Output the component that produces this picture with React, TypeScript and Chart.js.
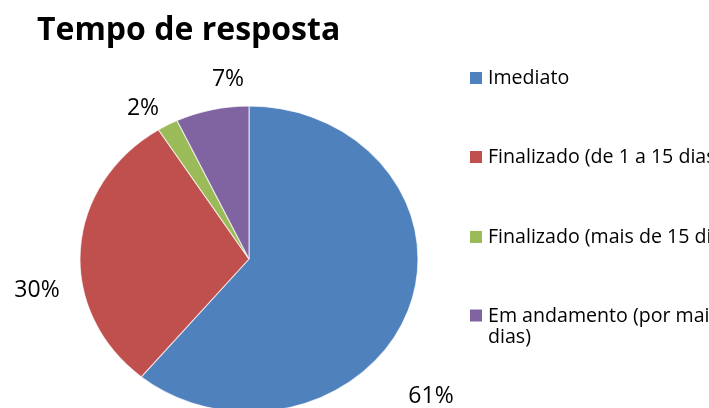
import React, { useEffect, useRef } from "react";
import { Chart, registerables } from "chart.js";

Chart.register(...registerables);

const TITLE = "Tempo de resposta";
const CATEGORIES: string[][] = [
  ["Imediato"],
  ["Finalizado (de 1 a 15 dias)"],
  ["Finalizado (mais de 15 dias)"],
  ["Em andamento (por mais de 15", "dias)"],
];
const VALUES = [61, 30, 2, 7];
const PERCENT_LABELS = ["61%", "30%", "2%", "7%"];
const COLORS = ["#4F81BD", "#C0504D", "#9BBB59", "#8064A2"];

// layout (offsets of each data label's centre from the pie centre)
const LABEL_OFFSETS = [
  [182, 137],
  [-212, 31],
  [-106, -151],
  [-21, -180],
];
const STRETCH_X = 169 / 153;
const W = 709;
const H = 440;

const stretchPlugin = {
  id: "stretch",
  beforeDatasetsDraw(chart: any) {
    const el = chart.getDatasetMeta(0).data[0];
    if (!el) return;
    const ctx = chart.ctx;
    ctx.save();
    ctx.translate(el.x, el.y);
    ctx.scale(STRETCH_X, 1);
    ctx.translate(-el.x, -el.y);
  },
  afterDatasetsDraw(chart: any) {
    chart.ctx.restore();
  },
};

const textPlugin = {
  id: "texts",
  afterDraw(chart: any) {
    const ctx = chart.ctx;
    const el = chart.getDatasetMeta(0).data[0];
    ctx.save();
    // title
    ctx.fillStyle = "#000";
    ctx.font = "bold 32px 'Open Sans'";
    ctx.textAlign = "left";
    ctx.textBaseline = "alphabetic";
    ctx.fillText(TITLE, 37, 40);

    // data labels
    ctx.font = "23px 'Open Sans'";
    ctx.textAlign = "center";
    ctx.textBaseline = "middle";
    PERCENT_LABELS.forEach((t, i) => {
      ctx.fillText(t, el.x + LABEL_OFFSETS[i][0], el.y + LABEL_OFFSETS[i][1]);
    });

    // legend
    const bgs = chart.data.datasets[0].backgroundColor;
    const labels = chart.data.labels;
    const rowY = [84, 163, 243, 321.5];
    ctx.font = "19.6px 'Open Sans'";
    ctx.textAlign = "left";
    ctx.textBaseline = "alphabetic";
    labels.forEach((lab: string[], i: number) => {
      ctx.fillStyle = bgs[i];
      ctx.fillRect(470, rowY[i] - 12, 12, 12);
      ctx.fillStyle = "#000";
      lab.forEach((line, j) => {
        ctx.fillText(line, 488, rowY[i] + j * 21);
      });
    });
    ctx.restore();
  },
};

export default function App() {
  const ref = useRef<HTMLCanvasElement | null>(null);
  useEffect(() => {
    document.body.style.margin = "0";
    const canvas = ref.current!;
    const chart = new Chart(canvas, {
      type: "pie",
      data: {
        labels: CATEGORIES as any,
        datasets: [
          {
            data: VALUES,
            backgroundColor: COLORS,
            borderColor: "rgba(255,255,255,0.7)",
            borderWidth: 1,
            radius: 153,
          } as any,
        ],
      },
      options: {
        responsive: false,
        animation: false,
        events: [],
        layout: { padding: { left: 96, right: W - 402, top: 106, bottom: H - 412 } },
        plugins: {
          legend: { display: false },
          title: { display: false },
          tooltip: { enabled: false },
        },
      },
      plugins: [stretchPlugin, textPlugin],
    });
    return () => chart.destroy();
  }, []);
  return (
    <div style={{ width: W, height: 408, overflow: "hidden", background: "#fff" }}>
      <canvas ref={ref} width={W} height={H} style={{ display: "block" }} />
    </div>
  );
}
